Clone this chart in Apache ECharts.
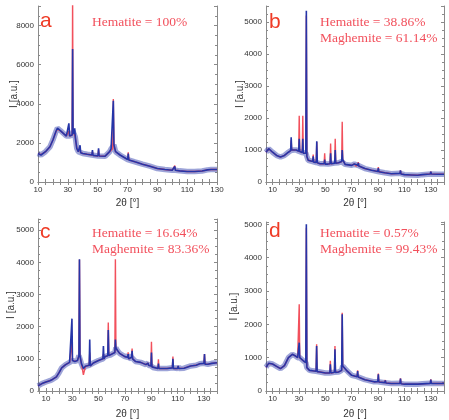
<!DOCTYPE html>
<html>
<head>
<meta charset="utf-8">
<script src="https://cdn.jsdelivr.net/npm/echarts@6/dist/echarts.min.js"></script>
<style>
  html, body { margin: 0; padding: 0; background: #fff; }
  #main { width: 449px; height: 420px; }
</style>
</head>
<body>
<div id="main"></div>
<script>
// 2θ positions and intensities (a-d)
var xTicks = [10, 30, 50, 70, 90, 110, 130];

// panel a
var tA    = [10, 12, 15, 18, 20, 22, 23, 25, 27, 29, 30.2, 30.7, 31.2, 32.4, 32.9, 33.2, 33.5, 34.2, 34.6, 35.0, 36, 37, 37.8, 38.2, 38.6, 40, 43, 46.1, 46.5, 46.9, 50.2, 50.6, 51.0, 55, 58, 59, 60.1, 60.5, 60.9, 62, 65, 70.1, 70.5, 70.9, 75, 80, 85, 90, 95, 100, 101.3, 101.7, 102.1, 105, 110, 115, 120, 123.6, 124, 124.5, 126, 130];
var obsA  = [1460, 1380, 1550, 1800, 2150, 2580, 2750, 2630, 2490, 2350, 2350, 3000, 2350, 2320, 2400, 6800, 2600, 2450, 2750, 2300, 1720, 1550, 1500, 1880, 1500, 1460, 1420, 1380, 1630, 1360, 1330, 1720, 1330, 1320, 1550, 1700, 1800, 4150, 1900, 1550, 1380, 1150, 1450, 1130, 1030, 910, 810, 690, 640, 600, 620, 800, 600, 570, 535, 535, 565, 620, 720, 640, 640, 640];
var calcA = [1460, 1400, 1540, 1800, 2150, 2560, 2700, 2620, 2480, 2350, 2350, 2600, 2350, 2320, 2400, 9500, 2600, 2450, 2500, 2300, 1720, 1550, 1500, 1700, 1500, 1460, 1420, 1380, 1550, 1360, 1330, 1650, 1330, 1320, 1550, 1650, 1700, 4250, 1900, 1550, 1380, 1150, 1520, 1130, 1030, 910, 810, 690, 640, 600, 620, 840, 600, 570, 535, 535, 565, 620, 700, 640, 640, 640];

// panel b
var tB    = [5, 7, 10, 13, 16, 19, 22, 23.7, 24.1, 24.5, 26, 28, 29.8, 30.2, 30.6, 32.5, 32.9, 33.3, 35.2, 35.6, 36.0, 37, 40.4, 40.8, 41.2, 43.1, 43.5, 43.9, 46, 49.1, 49.5, 49.9, 52, 53.6, 54, 54.4, 57.1, 57.5, 57.9, 60, 62.4, 62.8, 63.2, 65, 70, 72, 73, 74.6, 75, 75.4, 80, 85, 89.8, 90.2, 90.6, 95, 100, 106.6, 107, 107.4, 110, 115, 120, 123.6, 124, 124.4, 129.6, 130, 130.4, 135, 140];
var obsB  = [930, 1040, 930, 830, 780, 830, 930, 980, 1400, 1000, 1000, 1000, 960, 1350, 950, 920, 1350, 900, 900, 5350, 800, 680, 640, 800, 620, 610, 1270, 600, 570, 570, 700, 560, 560, 570, 900, 570, 590, 1000, 590, 600, 640, 1000, 700, 550, 520, 560, 500, 520, 600, 500, 420, 370, 330, 430, 320, 290, 260, 270, 360, 250, 230, 220, 210, 230, 270, 220, 250, 320, 250, 240, 240];
var calcB = [930, 1040, 930, 830, 780, 830, 930, 980, 1300, 1000, 1000, 1000, 960, 2070, 950, 920, 2070, 900, 900, 5200, 800, 680, 640, 860, 620, 610, 1250, 600, 570, 570, 900, 560, 560, 570, 1200, 570, 590, 1350, 590, 600, 640, 1880, 700, 550, 520, 570, 500, 520, 620, 500, 420, 370, 330, 470, 320, 290, 260, 270, 360, 250, 230, 220, 210, 230, 250, 220, 250, 320, 250, 240, 240];

// panel c
var tC    = [4, 7, 10, 13, 15, 18, 20, 22, 25, 28, 29.4, 29.8, 30.2, 32, 34, 35.1, 35.5, 35.9, 37, 38.5, 40, 42.9, 43.3, 43.7, 46, 50, 53.3, 53.7, 54.1, 55, 57, 57.4, 57.8, 59, 62.4, 62.8, 63.2, 64, 66, 70, 72.1, 72.5, 72.9, 74, 75.1, 75.5, 75.9, 78, 82, 86, 87.2, 87.6, 88, 89.8, 90.2, 90.6, 92, 95.1, 95.5, 95.9, 98, 102, 106.1, 106.5, 106.9, 110.1, 110.5, 110.9, 115, 120, 124.1, 124.5, 124.9, 127, 130.1, 130.5, 130.9, 133, 136, 140];
var obsC  = [160, 230, 280, 320, 360, 440, 570, 720, 820, 890, 900, 2250, 950, 920, 950, 1100, 4100, 1100, 850, 700, 770, 800, 1600, 780, 870, 950, 1000, 1400, 1000, 1070, 1100, 1900, 1100, 1120, 1200, 1600, 1350, 1280, 1170, 1070, 1050, 1150, 1000, 1020, 1050, 1250, 1000, 920, 890, 820, 830, 870, 800, 780, 1200, 750, 720, 700, 850, 700, 700, 700, 720, 1000, 700, 700, 780, 700, 710, 780, 800, 850, 780, 850, 860, 1150, 830, 830, 860, 880];
var calcC = [160, 230, 280, 320, 360, 440, 570, 720, 820, 890, 900, 1530, 950, 920, 950, 1100, 4080, 1100, 850, 500, 770, 800, 1200, 780, 870, 950, 1000, 1150, 1000, 1070, 1100, 2130, 1100, 1120, 1200, 4100, 1350, 1280, 1170, 1070, 1050, 1200, 1000, 1020, 1050, 1320, 1000, 920, 890, 820, 830, 870, 800, 780, 1530, 750, 720, 700, 990, 700, 700, 700, 720, 1070, 700, 700, 780, 700, 710, 780, 800, 850, 780, 850, 860, 1150, 830, 830, 860, 880];

// panel d
var tD    = [5, 7, 10, 13, 16, 19, 22, 25, 27, 29, 29.8, 30.2, 30.6, 32, 33.5, 35.2, 35.6, 36.0, 38, 40, 43.0, 43.4, 43.8, 46, 50, 53.4, 53.8, 54.2, 56.9, 57.3, 57.7, 60, 62.4, 62.8, 63.2, 64, 66, 70, 74.1, 74.5, 74.9, 80, 87, 89.8, 90.2, 90.6, 95.1, 95.5, 95.9, 100, 106.6, 107, 107.4, 110, 120, 123.6, 124, 124.4, 129.6, 130, 130.4, 135, 140];
var obsD  = [710, 830, 810, 740, 670, 760, 1000, 1100, 1060, 1000, 1000, 1450, 1000, 960, 900, 850, 5000, 700, 620, 610, 590, 1350, 580, 570, 540, 540, 800, 540, 560, 1250, 560, 570, 620, 2300, 750, 710, 620, 470, 430, 600, 420, 340, 275, 280, 500, 270, 250, 320, 240, 225, 230, 370, 220, 205, 205, 215, 260, 210, 230, 340, 230, 225, 225];
var calcD = [710, 830, 810, 740, 670, 760, 1000, 1100, 1060, 1000, 1000, 2600, 1000, 960, 900, 850, 4900, 700, 620, 610, 590, 1400, 580, 570, 540, 540, 910, 540, 560, 1350, 560, 570, 620, 2350, 750, 710, 620, 470, 430, 620, 420, 340, 275, 280, 520, 270, 250, 330, 240, 225, 230, 380, 220, 205, 205, 215, 260, 210, 230, 350, 230, 225, 225];

var panelLetters = ['a', 'b', 'c', 'd'];
var phaseText = [
  ['Hematite = 100%'],
  ['Hematite = 38.86%', 'Maghemite = 61.14%'],
  ['Hematite = 16.64%', 'Maghemite = 83.36%'],
  ['Hematite = 0.57%', 'Maghemite = 99.43%']
];

var blue = '#2535a8';
var red = '#f2505c';
var frame = '#8a8a8a';

var grids = [
  { left: 38, top: 6, width: 179, height: 176 },
  { left: 266, top: 6, width: 178, height: 176 },
  { left: 38, top: 219, width: 179, height: 176 },
  { left: 266, top: 222, width: 178, height: 173 }
];
// [xmin, xmax, ymax, yInterval, yNameGap, xNameGap]
var ranges = [
  [10, 130, 9000, 2000, 19, 16],
  [5, 140, 5500, 1000, 21, 16],
  [4, 140, 5350, 1000, 22, 18],
  [5, 140, 5070, 1000, 27, 18]
];

var minorX = [];
for (var v = 5; v <= 140; v += 5) minorX.push(v);

var xAxes = [], yAxes = [], series = [], graphic = [];
var sets = [[tA, obsA, calcA], [tB, obsB, calcB], [tC, obsC, calcC], [tD, obsD, calcD]];

function plain(v) { return String(v); }

for (var g = 0; g < 4; g++) {
  var r = ranges[g];
  var ticksX = minorX.filter(function (x) { return x >= r[0] && x <= r[1]; });
  xAxes.push({
    type: 'value', gridIndex: g, min: r[0], max: r[1], position: 'bottom',
    name: '2θ [°]', nameLocation: 'middle', nameGap: r[5], nameMoveOverlap: false,
    nameTextStyle: { fontSize: 10, color: '#333', fontFamily: 'Liberation Sans' },
    axisLine: { lineStyle: { color: frame } },
    axisTick: { inside: true, length: 3, customValues: ticksX, lineStyle: { color: frame } },
    axisLabel: { customValues: xTicks, formatter: plain, fontSize: 8, color: '#333', margin: 4, fontFamily: 'Liberation Sans' },
    splitLine: { show: false }
  });
  yAxes.push({
    type: 'value', gridIndex: g, min: 0, max: r[2], interval: r[3], position: 'left',
    name: 'I [a.u.]', nameLocation: 'middle', nameGap: r[4], nameMoveOverlap: false,
    nameTextStyle: { fontSize: 10, color: '#333', fontFamily: 'Liberation Sans' },
    axisLine: { show: true, lineStyle: { color: frame } },
    axisTick: { inside: true, length: 3, lineStyle: { color: frame } },
    minorTick: { show: true, splitNumber: 4, length: 2, lineStyle: { color: frame } },
    axisLabel: { formatter: plain, fontSize: 8, color: '#333', margin: 4, showMaxLabel: false, fontFamily: 'Liberation Sans' },
    splitLine: { show: false }
  });
}
for (var g = 0; g < 4; g++) {
  var r = ranges[g];
  var ticksX = minorX.filter(function (x) { return x >= r[0] && x <= r[1]; });
  xAxes.push({
    type: 'value', gridIndex: g, min: r[0], max: r[1], position: 'top',
    axisLine: { lineStyle: { color: frame } },
    axisTick: { inside: true, length: 3, customValues: ticksX, lineStyle: { color: frame } },
    axisLabel: { show: false }, splitLine: { show: false }
  });
  yAxes.push({
    type: 'value', gridIndex: g, min: 0, max: r[2], interval: r[3], position: 'right',
    axisLine: { show: true, lineStyle: { color: frame } },
    axisTick: { inside: true, length: 3, lineStyle: { color: frame } },
    minorTick: { show: true, splitNumber: 4, length: 2, lineStyle: { color: frame } },
    axisLabel: { show: false }, splitLine: { show: false }
  });
}

for (var g = 0; g < 4; g++) {
  var s = sets[g];
  var t = s[0], obs = s[1], calc = s[2];
  // noisy background band: observed points without the sharp reflections
  var band = [];
  for (var i = 0; i < t.length; i++) {
    var prev = i > 0 ? obs[i - 1] : obs[i];
    var next = i < t.length - 1 ? obs[i + 1] : obs[i];
    if (obs[i] <= 1.12 * Math.max(prev, next)) band.push([t[i], obs[i]]);
  }
  series.push({
    type: 'line', xAxisIndex: g, yAxisIndex: g, showSymbol: false, z: 1,
    data: band, lineStyle: { color: blue, width: 5.5, opacity: 0.45 }
  });
  series.push({
    type: 'line', xAxisIndex: g, yAxisIndex: g, showSymbol: false, z: 2,
    data: t.map(function (x, i) { return [x, calc[i]]; }),
    lineStyle: { color: red, width: 1.4 }
  });
  series.push({
    type: 'line', xAxisIndex: g, yAxisIndex: g, showSymbol: false, z: 3,
    data: t.map(function (x, i) { return [x, obs[i]]; }),
    lineStyle: { color: blue, width: 1.6 }
  });
}

// panel letters and phase fractions
var letterPos = [[40, 21], [269, 22], [40, 232], [269, 231]];
var textPos = [[92, 22], [320, 22], [92, 233], [320, 233]];
for (var g = 0; g < 4; g++) {
  graphic.push({
    type: 'text', x: letterPos[g][0], y: letterPos[g][1], z: 100,
    style: { text: panelLetters[g], font: '21px "Liberation Sans", Arial', fill: '#ef3b26', verticalAlign: 'middle' }
  });
  phaseText[g].forEach(function (txt, k) {
    graphic.push({
      type: 'text', x: textPos[g][0], y: textPos[g][1] + k * 16.5, z: 100,
      style: { text: txt, font: '13.5px "Liberation Serif", "Times New Roman", serif', fill: red, verticalAlign: 'middle' }
    });
  });
}

var chart = echarts.init(document.getElementById('main'));
chart.setOption({
  animation: false,
  backgroundColor: '#fff',
  grid: grids,
  xAxis: xAxes,
  yAxis: yAxes,
  series: series,
  graphic: graphic
});
</script>
</body>
</html>
